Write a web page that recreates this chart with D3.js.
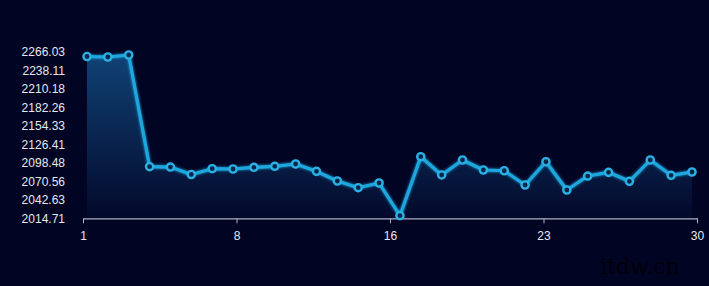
<!DOCTYPE html>
<html>
<head>
<meta charset="utf-8">
<script src="https://cdn.jsdelivr.net/npm/d3@7/dist/d3.min.js"></script>
<style>
  html, body { margin: 0; padding: 0; background: #020424; }
  svg { display: block; }
</style>
</head>
<body>
<svg id="chart" width="709" height="286"></svg>
<script>
const days = d3.range(1, 31);
const values = [2258.9, 2258.2, 2261.2, 2092.6, 2092.1, 2080.8, 2089.6, 2089.1, 2091.7, 2093.2,
                2096.7, 2085.6, 2071.0, 2060.9, 2068.0, 2018.6, 2107.7, 2080.1, 2102.7, 2087.6,
                2086.5, 2065.0, 2100.1, 2057.4, 2078.5, 2084.1, 2070.5, 2102.7, 2079.6, 2084.6];
const yTickLabels = ["2014.71", "2042.63", "2070.56", "2098.48", "2126.41", "2154.33", "2182.26", "2210.18", "2238.11", "2266.03"];
const xTickLabels = ["1", "8", "16", "23", "30"];

const data = days.map((d, i) => ({ day: d, value: values[i] }));
const svg = d3.select("#chart");

svg.append("rect").attr("width", 709).attr("height", 286).attr("fill", "#020424");

const x = d3.scaleLinear().domain([1, 30]).range([87, 692]);
const xAxisScale = d3.scaleLinear().domain([0, xTickLabels.length - 1]).range([83, 697]);
const yMin = +yTickLabels[0], yMax = +yTickLabels[yTickLabels.length - 1];
const y = d3.scaleLinear().domain([yMin, yMax]).range([218.3, 51.8]);

const defs = svg.append("defs");
const grad = defs.append("linearGradient").attr("id", "areaGrad")
  .attr("gradientUnits", "userSpaceOnUse")
  .attr("x1", 0).attr("y1", y(yMax)).attr("x2", 0).attr("y2", y(yMin));
grad.append("stop").attr("offset", "0%").attr("stop-color", "rgb(30,130,200)").attr("stop-opacity", 0.5);
grad.append("stop").attr("offset", "100%").attr("stop-color", "rgb(30,130,200)").attr("stop-opacity", 0.04);

const glow = defs.append("filter").attr("id", "glow").attr("x", "-10%").attr("y", "-10%").attr("width", "120%").attr("height", "120%");
glow.append("feGaussianBlur").attr("in", "SourceGraphic").attr("stdDeviation", 1.5).attr("result", "b");
const m = glow.append("feMerge");
m.append("feMergeNode").attr("in", "b");
m.append("feMergeNode").attr("in", "SourceGraphic");

// area
svg.append("path").datum(data)
  .attr("fill", "url(#areaGrad)")
  .attr("d", d3.area().x(d => x(d.day)).y0(y(yMin)).y1(d => y(d.value)));

// x axis
const xAxis = d3.axisBottom(xAxisScale)
  .tickValues(d3.range(xTickLabels.length))
  .tickFormat(i => xTickLabels[i])
  .tickSizeOuter(0).tickSizeInner(5).tickPadding(8);
const gx = svg.append("g").attr("transform", `translate(0,${y(yMin)})`).call(xAxis);
gx.select(".domain").attr("stroke", "#a9b0c4").attr("stroke-width", 1.2);
gx.selectAll(".tick line").attr("stroke", "#a9b0c4");
gx.selectAll(".tick text").attr("fill", "#e6e8ee").attr("font-size", 12).attr("font-family", "Arial, 'Liberation Sans', sans-serif");

// y axis
const yAxis = d3.axisLeft(y)
  .tickValues(yTickLabels.map(Number))
  .tickFormat((d, i) => yTickLabels[i])
  .tickSize(0).tickPadding(0);
const gy = svg.append("g").attr("transform", "translate(65,0)").call(yAxis);
gy.select(".domain").remove();
gy.selectAll(".tick text").attr("fill", "#e6e8ee").attr("font-size", 12).attr("font-family", "Arial, 'Liberation Sans', sans-serif");

// line
svg.append("path").datum(data)
  .attr("fill", "none").attr("stroke", "#1ea8de").attr("stroke-width", 3.2)
  .attr("stroke-linejoin", "round").attr("filter", "url(#glow)")
  .attr("d", d3.line().x(d => x(d.day)).y(d => y(d.value)));

// points
svg.append("g").selectAll("circle").data(data).join("circle")
  .attr("cx", d => x(d.day)).attr("cy", d => y(d.value)).attr("r", 3.6)
  .attr("fill", "#0b2547").attr("stroke", "#29b1e6").attr("stroke-width", 2.4);

// watermark
svg.append("text").attr("x", 640).attr("y", 274).attr("text-anchor", "middle")
  .attr("fill", "#000008").attr("font-size", 22).attr("font-family", "'DejaVu Serif', serif")
  .text("itdw.cn");
</script>
</body>
</html>
